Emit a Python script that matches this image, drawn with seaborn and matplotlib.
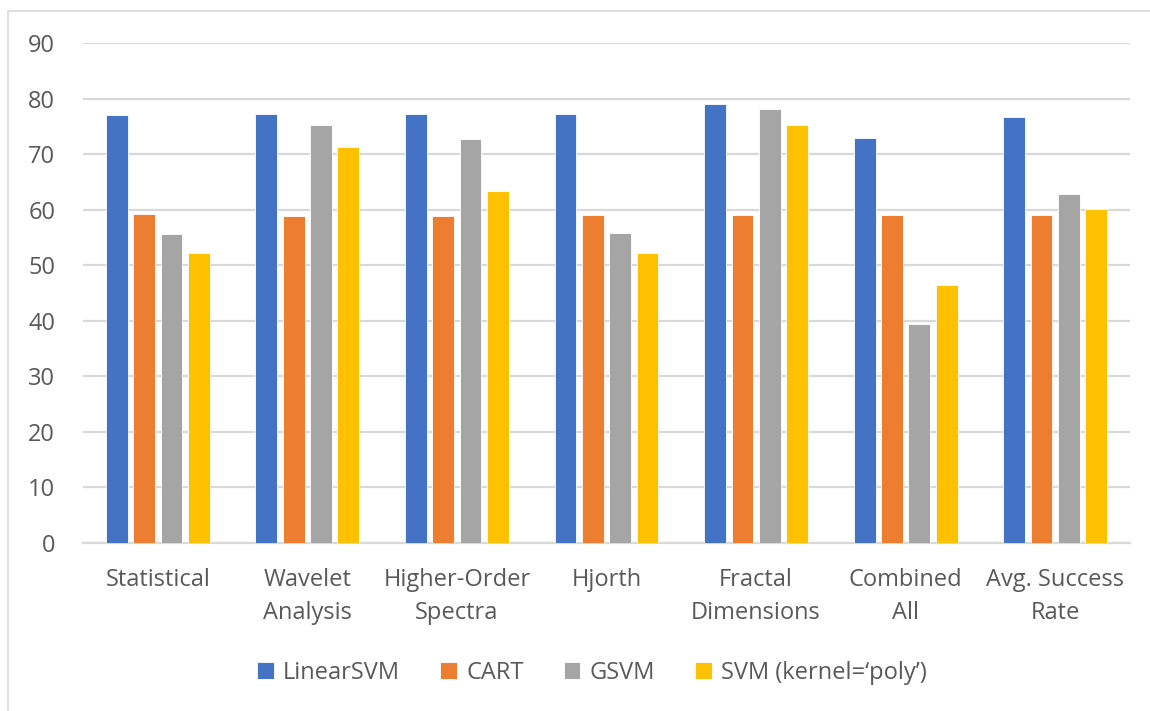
import matplotlib
matplotlib.use("Agg")
import matplotlib.pyplot as plt
from matplotlib.patches import Rectangle
import pandas as pd
import seaborn as sns

categories = ["Statistical", "Wavelet\nAnalysis", "Higher-Order\nSpectra", "Hjorth",
              "Fractal\nDimensions", "Combined\nAll", "Avg. Success\nRate"]
models = ["LinearSVM", "CART", "GSVM", "SVM (kernel=‘poly’)"]

linear_svm = [77.0, 77.2, 77.2, 77.2, 79.0, 72.9, 76.7]
cart = [59.2, 58.9, 58.9, 59.0, 59.0, 59.1, 59.0]
gsvm = [55.6, 75.2, 72.7, 55.8, 78.1, 39.4, 62.8]
svm_poly = [52.2, 71.3, 63.4, 52.2, 75.3, 46.4, 60.1]

y_ticks = [0, 10, 20, 30, 40, 50, 60, 70, 80, 90]
colors = ["#4472C4", "#ED7D31", "#A5A5A5", "#FFC000"]

rows = []
for model, values in zip(models, [linear_svm, cart, gsvm, svm_poly]):
    for cat, v in zip(categories, values):
        rows.append({"Feature": cat, "Model": model, "Accuracy": v})
df = pd.DataFrame(rows)

sns.set_theme(style="white")
plt.rcParams["font.family"] = ["Open Sans", "DejaVu Sans"]
text_color = "#595959"
grid_color = "#D9D9D9"

fig = plt.figure(figsize=(11.5, 7.11), dpi=100)
ax = fig.add_axes([83 / 1150, 1 - 543 / 711, (1130 - 83) / 1150, (543 - 43) / 711])

sns.barplot(data=df, x="Feature", y="Accuracy", hue="Model", order=categories,
            hue_order=models, palette=colors, width=0.73, gap=0.2,
            saturation=1, edgecolor="white", linewidth=0.6, ax=ax, zorder=3)

ax.set_ylim(0, 90)
ax.set_yticks(y_ticks)
ax.set_xlim(-0.5, len(categories) - 0.5)
ax.yaxis.grid(True, color=grid_color, linewidth=1.6, zorder=0)
ax.set_axisbelow(True)
for side in ["top", "right", "left"]:
    ax.spines[side].set_visible(False)
ax.spines["bottom"].set_color(grid_color)
ax.spines["bottom"].set_linewidth(1.6)
ax.set_xlabel("")
ax.set_ylabel("")
ax.tick_params(axis="y", length=0, pad=20, labelsize=17, labelcolor=text_color)
ax.tick_params(axis="x", length=0, pad=18, labelsize=17, labelcolor=text_color)
for lbl in ax.get_xticklabels():
    lbl.set_linespacing(1.5)

handles, labels = ax.get_legend_handles_labels()
ax.legend(handles, labels, loc="center", bbox_to_anchor=(592 / 1150, 1 - 673 / 711),
          bbox_transform=fig.transFigure, ncol=4, frameon=False, fontsize=17,
          handlelength=0.7, handleheight=0.7, handletextpad=0.4, columnspacing=1.7,
          labelcolor=text_color)

# Light chart-area border (left and top edges)
fig.patches.append(Rectangle((8 / 1150, -0.1), 1.2, 1.1 - 11 / 711,
                             transform=fig.transFigure, fill=False,
                             edgecolor=grid_color, linewidth=1.2))

fig.savefig("out.png", dpi=100)
